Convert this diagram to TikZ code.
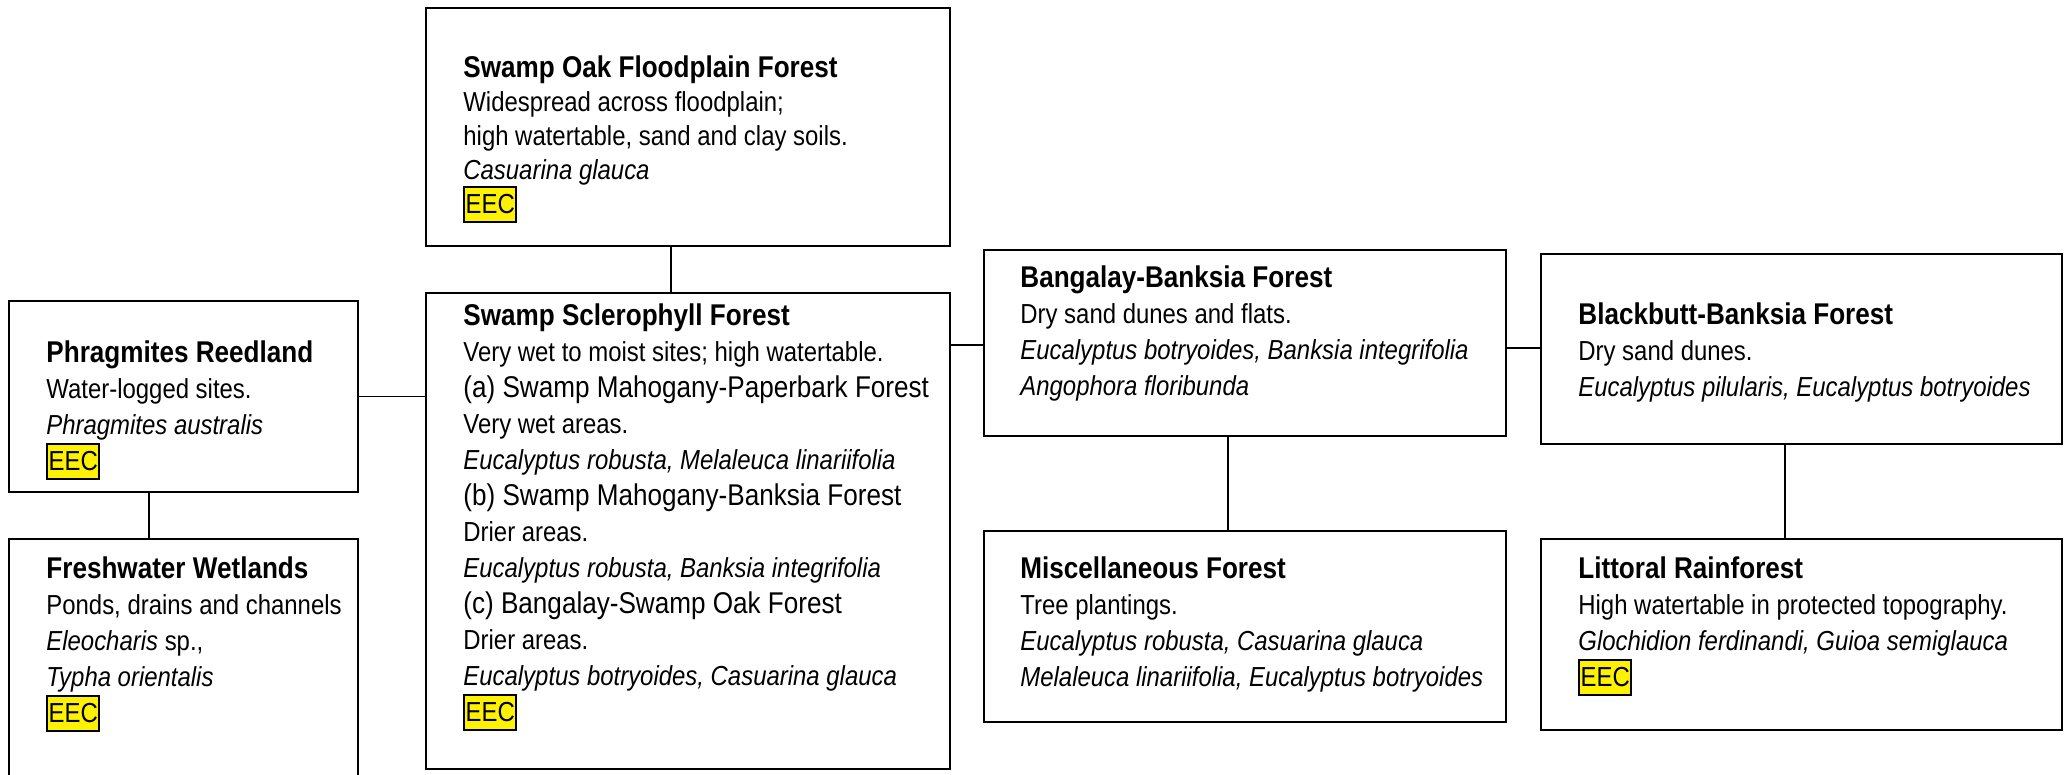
\documentclass[tikz,border=0pt]{standalone}
\usepackage{fontspec}
\setmainfont{Liberation Sans}[FakeStretch=0.87]
\usetikzlibrary{fit}
\newcommand\ttl[1]{{\fontsize{15.0}{18}\selectfont\bfseries\strut #1}}
\newcommand\subh[1]{{\fontsize{15.0}{18}\selectfont #1}}
\newcommand\eec{{\setlength\fboxsep{0pt}\setlength\fboxrule{0.9pt}\fcolorbox{black}{yellow}{\rule[-4pt]{0pt}{16.6pt}\kern0.2pt EEC\kern0.2pt}}}
\begin{document}
\begin{tikzpicture}[x=0.5pt,y=-0.5pt,
  box/.style={draw, line width=0.75pt, inner sep=0pt},
  txt/.style={anchor=north west, inner sep=0pt, align=left, font=\fontsize{13.75}{18}\selectfont},
  link/.style={line width=0.8pt}]
\clip (0,0) rectangle (2069,775);
% boxes
\node[box, fit={(9,301) (358,492)}] (phr) {};
\node[box, fit={(9,539) (358,800)}] (fresh) {};
\node[box, fit={(426,8) (950,246)}] (sof) {};
\node[box, fit={(426,293) (950,769)}] (ssf) {};
\node[box, fit={(984,250) (1506,436)}] (bang) {};
\node[box, fit={(984,531) (1506,722)}] (misc) {};
\node[box, fit={(1541,254) (2062,444)}] (black) {};
\node[box, fit={(1541,539) (2062,730)}] (litt) {};
% texts
\node[txt] (phrT) at (46,336.8) {\ttl{Phragmites Reedland}\\Water-logged sites.\\\textit{Phragmites australis}\\\eec};
\node[txt] (freshT) at (46,552.8) {\ttl{Freshwater Wetlands}\\Ponds, drains and channels\\\textit{Eleocharis} sp.,\\\textit{Typha orientalis}\\\eec};
\node[txt, font=\fontsize{13.75}{17}\selectfont] (sofT) at (463,51.8) {\ttl{Swamp Oak Floodplain Forest}\\Widespread across floodplain;\\high watertable, sand and clay soils.\\\textit{Casuarina glauca}\\\eec};
\node[txt] (ssfT) at (463,299.8) {\ttl{Swamp Sclerophyll Forest}\\Very wet to moist sites; high watertable.\\\subh{(a) Swamp Mahogany-Paperbark Forest}\\Very wet areas.\\\textit{Eucalyptus robusta, Melaleuca linariifolia}\\\subh{(b) Swamp Mahogany-Banksia Forest}\\Drier areas.\\\textit{Eucalyptus robusta, Banksia integrifolia}\\\subh{(c) Bangalay-Swamp Oak Forest}\\Drier areas.\\\textit{Eucalyptus botryoides, Casuarina glauca}\\\eec};
\node[txt] (bangT) at (1020,261.8) {\ttl{Bangalay-Banksia Forest}\\Dry sand dunes and flats.\\\textit{Eucalyptus botryoides, Banksia integrifolia}\\\textit{Angophora floribunda}};
\node[txt] (miscT) at (1020,552.8) {\ttl{Miscellaneous Forest}\\Tree plantings.\\\textit{Eucalyptus robusta, Casuarina glauca}\\\textit{Melaleuca linariifolia, Eucalyptus botryoides}};
\node[txt] (blackT) at (1578,298.8) {\ttl{Blackbutt-Banksia Forest}\\Dry sand dunes.\\\textit{Eucalyptus pilularis, Eucalyptus botryoides}};
\node[txt] (littT) at (1578,552.8) {\ttl{Littoral Rainforest}\\High watertable in protected topography.\\\textit{Glochidion ferdinandi, Guioa semiglauca}\\\eec};
% connectors
\coordinate (k1) at (149,0);
\draw[link] (k1 |- phr.south) -- (k1 |- fresh.north);
\draw[link] (phr.east) -- (phr.east -| ssf.west);
\coordinate (k2) at (671,0);
\draw[link] (k2 |- sof.south) -- (k2 |- ssf.north);
\coordinate (k3) at (0,345);
\draw[link] (k3 -| ssf.east) -- (k3 -| bang.west);
\coordinate (k4) at (0,348);
\draw[link] (k4 -| bang.east) -- (k4 -| black.west);
\coordinate (k5) at (1228,0);
\draw[link] (k5 |- bang.south) -- (k5 |- misc.north);
\coordinate (k6) at (1785,0);
\draw[link] (k6 |- black.south) -- (k6 |- litt.north);
\end{tikzpicture}
\end{document}
